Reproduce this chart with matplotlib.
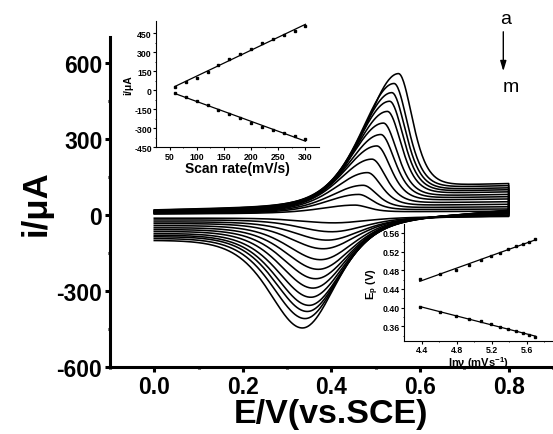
import numpy as np
import matplotlib
matplotlib.use('Agg')
import matplotlib.pyplot as plt

plt.rcParams['font.family'] = ['Liberation Sans', 'DejaVu Sans']
plt.rcParams['mathtext.fontset'] = 'custom'
plt.rcParams['mathtext.rm'] = 'Liberation Sans:bold'
plt.rcParams['mathtext.it'] = 'Liberation Sans:bold'
plt.rcParams['mathtext.bf'] = 'Liberation Sans:bold'
plt.rcParams['mathtext.default'] = 'regular'
plt.rcParams['axes.unicode_minus'] = False

# ---------------- data ----------------
# inset 1: peak current vs scan rate
scan_rate = [60, 80, 100, 120, 140, 160, 180, 200, 220, 240, 260, 280, 300]
ipa_inset = [29, 68, 100, 147, 197, 245, 287, 329, 371, 408, 439, 471, 505]
ipc_inset = [-21, -53, -82, -113, -153, -187, -221, -255, -287, -316, -337, -361, -387]

# inset 2: peak potential vs ln(v)
ln_v = [4.38, 4.61, 4.79, 4.94, 5.08, 5.19, 5.30, 5.39, 5.48, 5.56, 5.63, 5.70]
ep_anodic = [0.461, 0.471, 0.481, 0.491, 0.502, 0.511, 0.517, 0.526, 0.531, 0.536, 0.541, 0.546]
ep_cathodic = [0.401, 0.391, 0.382, 0.376, 0.371, 0.365, 0.359, 0.354, 0.350, 0.346, 0.341, 0.337]

# main CVs (curve m ... a): peak potentials / currents and capacitive current
cv_epa = [0.452, 0.461, 0.471, 0.481, 0.491, 0.502, 0.511, 0.517, 0.526, 0.531, 0.536, 0.541, 0.551]
cv_ipa = [39, 81, 117, 167, 220, 272, 317, 362, 408, 448, 482, 518, 557]
cv_epc = [0.406, 0.401, 0.391, 0.382, 0.376, 0.371, 0.365, 0.359, 0.354, 0.350, 0.346, 0.341, 0.335]
cv_ipc = [-31, -66, -99, -133, -176, -214, -251, -288, -324, -356, -380, -408, -445]
cv_ic = [10, 13, 17, 20, 23, 27, 30, 33, 37, 40, 43, 47, 50]
e_start, e_switch = 0.0, 0.8

# shape constants (V)
WL_A, WR_A, TAU_A = 0.10, 0.042, 0.136
WL_C, WR_C, TAU_C = 0.10, 0.10, 0.14

def sech2(x):
    return 1.0 / np.cosh(x) ** 2

fig = plt.figure(figsize=(5.53, 4.35), dpi=100)
ax = fig.add_axes([0.1989, 0.1533, 0.8011, 0.7587])

Ef = np.linspace(e_start, e_switch, 500)
Er = Ef[::-1]
for k in range(len(cv_ipa)):
    ic = cv_ic[k]
    base_f = lambda E: ic * (0.4 + 0.85 * E)
    A = cv_ipa[k] - base_f(cv_epa[k])
    u = Ef - cv_epa[k]
    Sf = np.where(u < 0, sech2(u / WL_A), TAU_A + (1 - TAU_A) * sech2(u / WR_A))
    If = base_f(Ef) + A * Sf
    tail = lambda E: A * TAU_A * np.exp(-(e_switch - E) / 0.4)
    C = cv_ipc[k] + ic - tail(cv_epc[k])
    v = Er - cv_epc[k]
    Sc = np.where(v > 0, sech2(v / WR_C), TAU_C + (1 - TAU_C) * sech2(v / WL_C))
    Ir = -ic + tail(Er) + C * Sc
    ax.plot(np.concatenate([Ef, Er]), np.concatenate([If, Ir]), color='k', lw=1.15)

ax.set_xlim(-0.1, 0.9)
ax.set_ylim(-600, 700)
ax.set_xticks([0.0, 0.2, 0.4, 0.6, 0.8])
ax.set_xticklabels(['0.0', '0.2', '0.4', '0.6', '0.8'])
ax.set_xticks([-0.1, 0.1, 0.3, 0.5, 0.7, 0.9], minor=True)
ax.set_yticks([-600, -300, 0, 300, 600])
ax.set_yticks([-450, -150, 150, 450], minor=True)
for s in ['top', 'right']:
    ax.spines[s].set_visible(False)
for s in ['left', 'bottom']:
    ax.spines[s].set_linewidth(2.2)
ax.tick_params(which='major', direction='out', length=3.5, width=2.2, labelsize=16.5, pad=2)
ax.tick_params(which='minor', direction='out', length=1.5, width=2.2)
for lab in ax.get_xticklabels() + ax.get_yticklabels():
    lab.set_fontweight('bold')
ax.set_xlabel('E/V(vs.SCE)', fontsize=24.5, fontweight='bold', labelpad=0)
ax.set_ylabel('i/\u03bcA', fontsize=25, fontweight='bold', labelpad=3)

# a -> m annotation
fig.text(505.7 / 553, 1 - 19 / 435, 'a', fontsize=14, ha='center', va='center')
fig.text(510.7 / 553, 1 - 88 / 435, 'm', fontsize=14, ha='center', va='center')
ax.annotate('', xy=(503.3 / 553, 1 - 75 / 435), xytext=(503.3 / 553, 1 - 30 / 435),
            xycoords='figure fraction', textcoords='figure fraction',
            arrowprops=dict(arrowstyle='-|>,head_width=0.18,head_length=0.6', lw=1.0, color='k'))

# ---------------- inset 1 ----------------
ax1 = fig.add_axes([0.2821, 0.659, 0.2948, 0.291])
ax1.plot(scan_rate, ipa_inset, 's', color='k', ms=2.1)
ax1.plot(scan_rate, ipc_inset, 's', color='k', ms=2.1)
sr = np.array(scan_rate, dtype=float)
for series in (ipa_inset, ipc_inset):
    p = np.polyfit(sr, series, 1)
    ax1.plot([sr[0], sr[-1]], np.polyval(p, [sr[0], sr[-1]]), color='k', lw=0.9)
ax1.set_xlim(25, 325)
ax1.set_ylim(-450, 550)
ax1.set_xticks([50, 100, 150, 200, 250, 300])
ax1.set_xticks([75, 125, 175, 225, 275], minor=True)
ax1.set_yticks([-450, -300, -150, 0, 150, 300, 450])
ax1.set_yticks([-375, -225, -75, 75, 225, 375], minor=True)
for s in ['top', 'right']:
    ax1.spines[s].set_visible(False)
for s in ['left', 'bottom']:
    ax1.spines[s].set_linewidth(0.8)
ax1.tick_params(which='major', direction='out', length=2, width=0.8, labelsize=6.3, pad=1)
ax1.tick_params(which='minor', direction='out', length=1, width=0.6)
for lab in ax1.get_xticklabels() + ax1.get_yticklabels():
    lab.set_fontweight('bold')
ax1.set_xlabel('Scan rate(mV/s)', fontsize=10, fontweight='bold', labelpad=0)
ax1.set_ylabel('i/\u03bcA', fontsize=7.5, fontweight='bold', labelpad=1)

# ---------------- inset 2 ----------------
ax2 = fig.add_axes([0.7306, 0.2131, 0.2694, 0.2697])
ax2.set_facecolor('white')
ax2.plot(ln_v, ep_anodic, 's', color='k', ms=2.1)
ax2.plot(ln_v, ep_cathodic, 's', color='k', ms=2.1)
lv = np.array(ln_v)
for series in (ep_anodic, ep_cathodic):
    p = np.polyfit(lv, series, 1)
    ax2.plot([lv[0], lv[-1]], np.polyval(p, [lv[0], lv[-1]]), color='k', lw=0.9)
ax2.set_xlim(4.2, 5.9)
ax2.set_ylim(0.328, 0.579)
ax2.set_xticks([4.4, 4.8, 5.2, 5.6])
ax2.set_xticks([4.6, 5.0, 5.4, 5.8], minor=True)
ax2.set_yticks([0.36, 0.40, 0.44, 0.48, 0.52, 0.56])
ax2.set_yticks([0.34, 0.38, 0.42, 0.46, 0.50, 0.54], minor=True)
ax2.set_yticklabels(['0.36', '0.40', '0.44', '0.48', '0.52', '0.56'])
for s in ['top', 'right']:
    ax2.spines[s].set_visible(False)
for s in ['left', 'bottom']:
    ax2.spines[s].set_linewidth(0.8)
ax2.tick_params(which='major', direction='out', length=2, width=0.8, labelsize=6.3, pad=1)
ax2.tick_params(which='minor', direction='out', length=1, width=0.6)
for lab in ax2.get_xticklabels() + ax2.get_yticklabels():
    lab.set_fontweight('bold')
ax2.set_xlabel('ln\u03bd (mVs$^{-1}$)', fontsize=8, fontweight='bold', labelpad=0)
ax2.set_ylabel('E$_{p}$ (V)', fontsize=8, fontweight='bold', labelpad=1)

fig.savefig('out.png', dpi=100)
